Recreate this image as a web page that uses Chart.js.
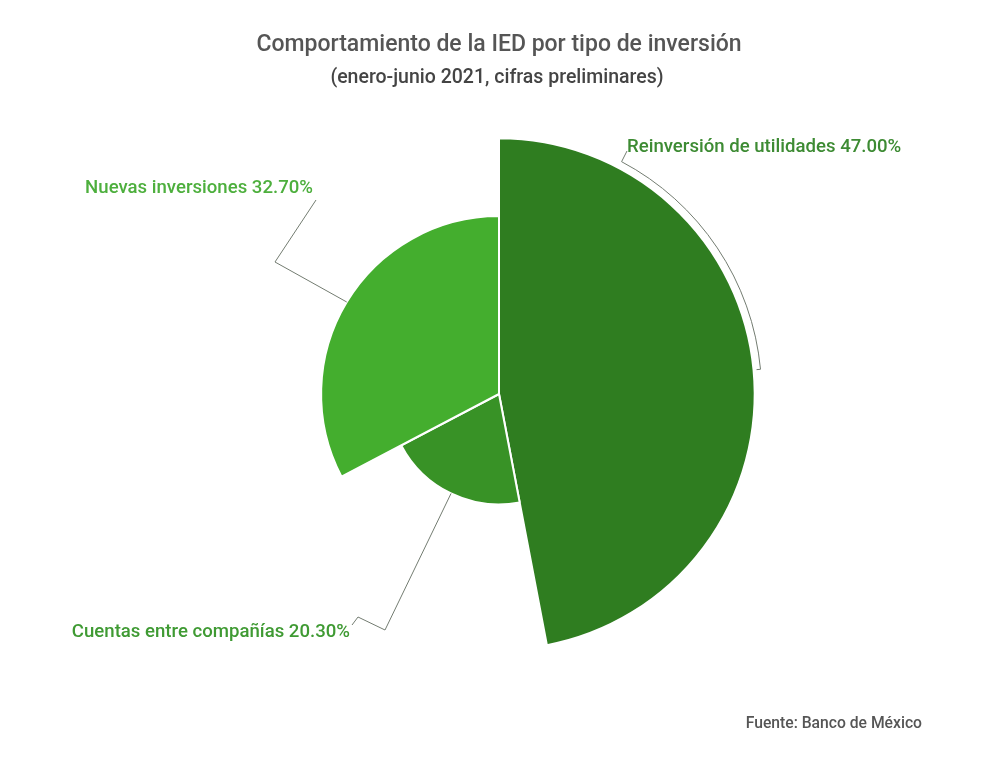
<!DOCTYPE html>
<html>
<head>
<meta charset="utf-8">
<script src="https://cdn.jsdelivr.net/npm/chart.js@4.4.0/dist/chart.umd.min.js"></script>
<style>
  html, body { margin: 0; padding: 0; background: #fff; }
  #wrap { width: 1000px; height: 774px; }
</style>
</head>
<body>
<div id="wrap"><canvas id="chart" width="1000" height="774"></canvas></div>
<script>
const categories = ['Reinversión de utilidades', 'Cuentas entre compañías', 'Nuevas inversiones'];
const shares = [47.0, 20.3, 32.7];
const sliceColors = ['#2f7d20', '#389226', '#44ae2e'];
const labelColors = ['#3d8b33', '#3f9a33', '#4daf3d'];

const titleText = 'Comportamiento de la IED por tipo de inversión';
const subtitleText = '(enero-junio 2021, cifras preliminares)';
const sourceText = 'Fuente: Banco de México';

// where each label sits and how its leader bends
const labelLayout = [
    {x: 627, y: 147, align: 'left', kind: 'arc'},
    {x: 350, y: 632, align: 'right', kind: 'bent', elbows: [[385, 630], [358, 617], [352, 625]]},
    {x: 313, y: 188, align: 'right', kind: 'bent', elbows: [[275, 262], [316, 200]]}
];

const FONT = 'Roboto, "Noto Sans", sans-serif';

const textPlugin = {
    id: 'textPlugin',
    afterDraw(chart) {
        const ctx = chart.ctx;
        const meta = chart.getDatasetMeta(0);
        ctx.save();

        // titles
        ctx.textAlign = 'center';
        ctx.textBaseline = 'middle';
        ctx.fillStyle = '#555555';
        ctx.font = '500 23px ' + FONT;
        ctx.fillText(titleText, 499, 45);
        ctx.fillStyle = '#444444';
        ctx.font = '500 19.5px ' + FONT;
        ctx.fillText(subtitleText, 497, 78);
        ctx.fillStyle = '#555555';
        ctx.font = '500 15.7px ' + FONT;
        ctx.textAlign = 'right';
        ctx.fillText(sourceText, 922, 724);

        // leaders
        ctx.strokeStyle = '#737c71';
        ctx.lineWidth = 1;
        meta.data.forEach((arc, i) => {
            const lay = labelLayout[i];
            const p = arc.getProps(['x', 'y', 'startAngle', 'endAngle', 'outerRadius'], true);
            const mid = (p.startAngle + p.endAngle) / 2;
            ctx.beginPath();
            if (lay.kind === 'arc') {
                const r = p.outerRadius + 7;
                const a2 = Math.atan2(lay.y + 12 - p.y, lay.x - 4 - p.x);
                ctx.moveTo(p.x + Math.cos(mid) * (p.outerRadius + 3), p.y + Math.sin(mid) * (p.outerRadius + 3));
                ctx.lineTo(p.x + Math.cos(mid) * r, p.y + Math.sin(mid) * r);
                ctx.arc(p.x, p.y, r, mid, a2, true);
                ctx.lineTo(lay.x, lay.y + 4);
            } else {
                ctx.moveTo(p.x + Math.cos(mid) * p.outerRadius, p.y + Math.sin(mid) * p.outerRadius);
                lay.elbows.forEach(pt => ctx.lineTo(pt[0], pt[1]));
            }
            ctx.stroke();

            ctx.fillStyle = labelColors[i];
            ctx.font = '500 18.6px ' + FONT;
            ctx.textAlign = lay.align;
            ctx.textBaseline = 'middle';
            ctx.fillText(categories[i] + ' ' + shares[i].toFixed(2) + '%', lay.x, lay.y);
        });
        ctx.restore();
    }
};

const total = shares.reduce((a, b) => a + b, 0);

new Chart(document.getElementById('chart'), {
    type: 'polarArea',
    data: {
        labels: categories,
        datasets: [{
            data: shares,
            backgroundColor: sliceColors,
            borderColor: '#ffffff',
            borderWidth: 2,
            // angle of each slice follows its share
            angle: shares.map(v => v / total * 360)
        }]
    },
    options: {
        responsive: false,
        animation: false,
        layout: {
            padding: {left: 227, right: 229, top: 122, bottom: 108}
        },
        scales: {
            r: {
                display: false,
                min: 0,
                max: 50,
                startAngle: 0
            }
        },
        plugins: {
            legend: {display: false},
            tooltip: {enabled: false}
        }
    },
    plugins: [textPlugin]
});
</script>
</body>
</html>
